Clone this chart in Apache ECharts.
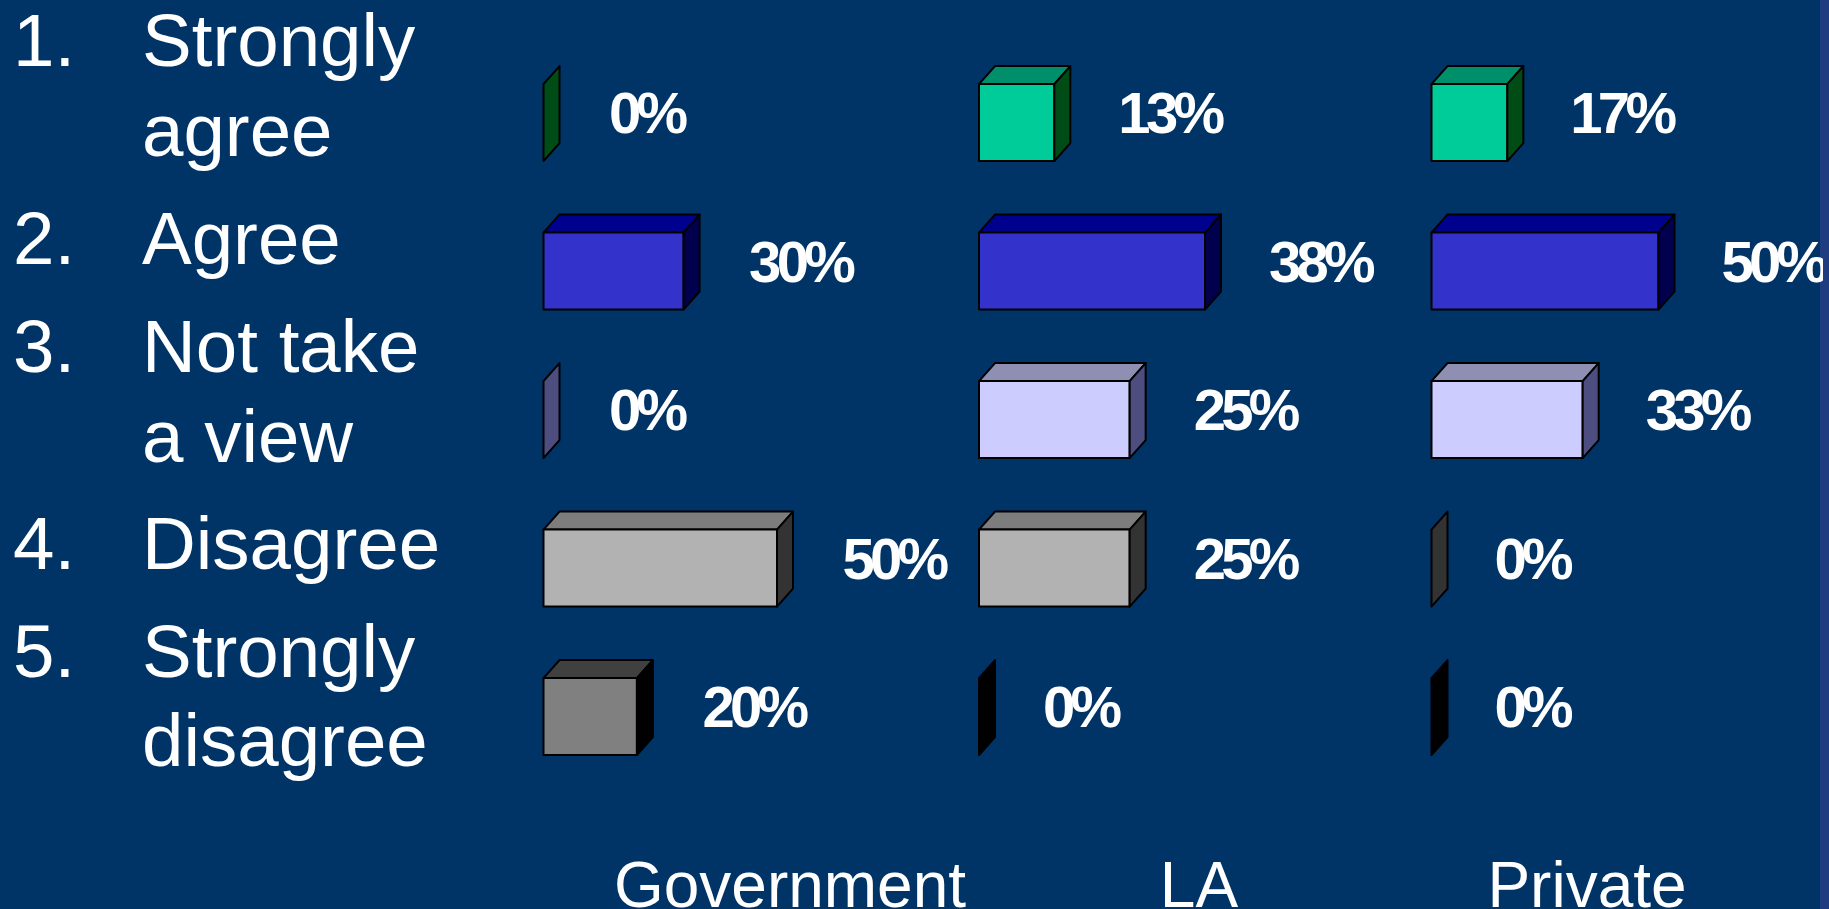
<!DOCTYPE html>
<html>
<head>
<meta charset="utf-8">
<style>
    html, body { margin: 0; padding: 0; background: #003366; overflow: hidden; }
    #chart { width: 1829px; height: 909px; }
    /* the data labels in the reference are set very tight */
    #chart text[style*="bold"] { letter-spacing: -4.7px; }
</style>
<script src="https://cdn.jsdelivr.net/npm/echarts@6/dist/echarts.min.js"></script>
</head>
<body>
<div id="chart"></div>
<script>
    var categories = ['Strongly agree', 'Agree', 'Not take a view', 'Disagree', 'Strongly disagree'];
    var panels = ['Government', 'LA', 'Private'];
    var government = [0, 30, 0, 50, 20];
    var la = [12.5, 37.5, 25, 25, 0];
    var privateSector = [16.7, 50, 33.3, 0, 0];

    var frontColors = ['#00CC99', '#3333CC', '#CCCCFF', '#B2B2B2', '#808080'];
    var topColors = ['#008F6B', '#00008F', '#8F8FB3', '#7D7D7D', '#404040'];
    var sideColors = ['#004C17', '#00004F', '#4D4D80', '#333333', '#000000'];

    var listLines = [
        ['1.', 'Strongly'], ['', 'agree'],
        ['2.', 'Agree'],
        ['3.', 'Not take'], ['', 'a view'],
        ['4.', 'Disagree'],
        ['5.', 'Strongly'], ['', 'disagree']
    ];
    var listBaselines = [65, 155, 263, 371, 461, 568, 676, 765];

    var depthX = 16;
    var depthY = 18;
    var barHeight = 77;
    var labelGaps = [49.5, 48, 47];

    function renderBar(params, api) {
        var row = api.value(1);
        var end = api.coord([api.value(0), row]);
        var start = api.coord([0, row]);
        var x0 = start[0];
        var x1 = end[0];
        var top = end[1] - barHeight / 2;
        var bottom = end[1] + barHeight / 2;
        var edge = { stroke: '#000', lineWidth: 2, lineJoin: 'round' };
        var children = [];
        if (x1 > x0) {
            children.push({
                type: 'polygon',
                shape: { points: [[x0, top], [x0 + depthX, top - depthY], [x1 + depthX, top - depthY], [x1, top]] },
                style: Object.assign({ fill: topColors[row] }, edge)
            });
            children.push({
                type: 'rect',
                shape: { x: x0, y: top, width: x1 - x0, height: barHeight },
                style: Object.assign({ fill: frontColors[row] }, edge)
            });
        }
        children.push({
            type: 'polygon',
            shape: { points: [[x1, top], [x1 + depthX, top - depthY], [x1 + depthX, bottom - depthY], [x1, bottom]] },
            style: Object.assign({ fill: sideColors[row] }, edge)
        });
        children.push({
            type: 'text',
            style: {
                x: x1 + depthX + labelGaps[params.seriesIndex],
                y: end[1] - 10,
                text: Math.round(api.value(0)) + '%',
                fill: '#fff',
                font: 'bold 58px "Liberation Sans", Arial, sans-serif',
                align: 'left',
                verticalAlign: 'middle'
            }
        });
        return { type: 'group', children: children };
    }

    function makeGrid(left, width) {
        return { left: left, width: width, top: 48.3, height: 742.5 };
    }

    function makeXAxis(index, max) {
        return { type: 'value', gridIndex: index, min: 0, max: max, show: false };
    }

    function makeYAxis(index) {
        return { type: 'category', gridIndex: index, data: categories, inverse: true, show: false };
    }

    function makeSeries(index, name, values) {
        return {
            type: 'custom',
            name: name,
            xAxisIndex: index,
            yAxisIndex: index,
            renderItem: renderBar,
            encode: { x: 0, y: 1 },
            clip: false,
            silent: true,
            data: values.map(function (v, i) { return [v, i]; })
        };
    }

    var listFont = '74.5px "Liberation Sans", Arial, sans-serif';
    var panelFont = '64px "Liberation Sans", Arial, sans-serif';
    // the strip at the right edge: the last label runs onto it and is cut at 1823
    var graphics = [{
        type: 'rect',
        shape: { x: 1820, y: 0, width: 3, height: 909 },
        style: { fill: '#1F3C80' }
    }, {
        type: 'rect',
        z: 100,
        shape: { x: 1823, y: 0, width: 6, height: 909 },
        style: { fill: '#1F3C80' }
    }];
    listLines.forEach(function (line, i) {
        // verticalAlign bottom sits about 0.14em under the baseline
        graphics.push({
            type: 'text', x: 13, y: listBaselines[i] + 13,
            style: { text: line[0], font: listFont, fill: '#fff', verticalAlign: 'bottom' }
        });
        graphics.push({
            type: 'text', x: 142, y: listBaselines[i] + 13,
            style: { text: line[1], font: listFont, fill: '#fff', verticalAlign: 'bottom' }
        });
    });
    var panelCenters = [790, 1199, 1587];
    panels.forEach(function (name, i) {
        graphics.push({
            type: 'text', x: panelCenters[i], y: 917,
            style: { text: name, font: panelFont, fill: '#fff', align: 'center', verticalAlign: 'bottom' }
        });
    });

    var chart = echarts.init(document.getElementById('chart'), null, { renderer: 'svg' });
    chart.setOption({
        backgroundColor: '#003366',
        animation: false,
        grid: [makeGrid(543.5, 233.5), makeGrid(979, 226), makeGrid(1431.5, 227)],
        xAxis: [makeXAxis(0, 50), makeXAxis(1, 37.5), makeXAxis(2, 50)],
        yAxis: [makeYAxis(0), makeYAxis(1), makeYAxis(2)],
        series: [
            makeSeries(0, panels[0], government),
            makeSeries(1, panels[1], la),
            makeSeries(2, panels[2], privateSector)
        ],
        graphic: graphics
    });
</script>
</body>
</html>
